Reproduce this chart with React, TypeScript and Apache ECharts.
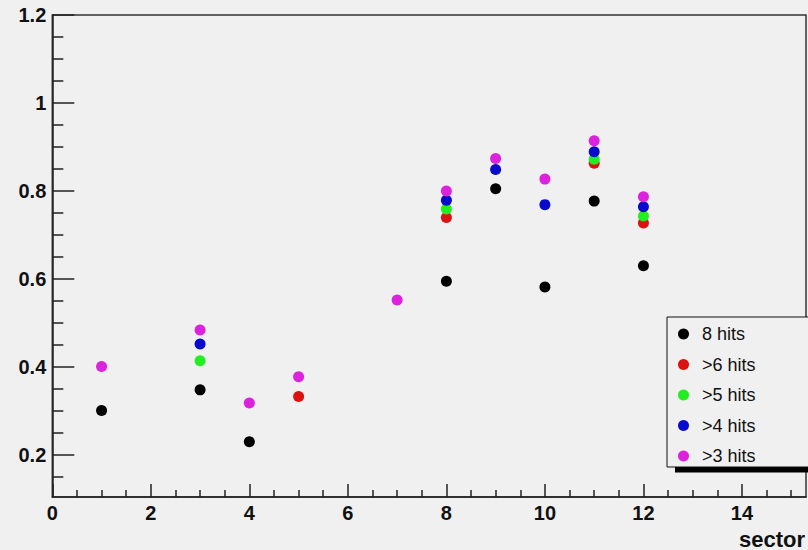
import React, { useEffect, useRef } from "react";
import * as echarts from "echarts";

// Sectors that have measurements
const sectors = [1, 3, 4, 5, 7, 8, 9, 10, 11, 12];
// Efficiency per sector (null where no separate marker is visible)
const hits8 = [0.301, 0.348, 0.23, null, null, 0.595, 0.805, 0.582, 0.777, 0.63];
const hitsGt6 = [null, null, null, 0.333, null, 0.74, null, null, 0.863, 0.727];
const hitsGt5 = [null, 0.414, null, null, null, 0.759, null, null, 0.872, 0.743];
const hitsGt4 = [null, 0.452, null, null, null, 0.779, 0.849, 0.769, 0.889, 0.764];
const hitsGt3 = [0.401, 0.484, 0.318, 0.378, 0.552, 0.8, 0.874, 0.827, 0.914, 0.787];

const seriesNames = ["8 hits", ">6 hits", ">5 hits", ">4 hits", ">3 hits"];
const seriesValues = [hits8, hitsGt6, hitsGt5, hitsGt4, hitsGt3];
const seriesColors = ["#000000", "#dc1212", "#22ee22", "#0a0acc", "#dd22dd"];

// Axis ticks
const xMajor = [0, 2, 4, 6, 8, 10, 12, 14];
const xMinor = [0.5, 1, 1.5, 2.5, 3, 3.5, 4.5, 5, 5.5, 6.5, 7, 7.5, 8.5, 9, 9.5, 10.5, 11, 11.5, 12.5, 13, 13.5, 14.5, 15];
const yMajor = [0.2, 0.4, 0.6, 0.8, 1, 1.2];
const yMinor = [0.15, 0.25, 0.3, 0.35, 0.45, 0.5, 0.55, 0.65, 0.7, 0.75, 0.85, 0.9, 0.95, 1.05, 1.1, 1.15];

const X_MIN = 0;
const X_MAX = 15.3;
const Y_MIN = 0.1045;
const Y_MAX = 1.2;

const FONT = "'Liberation Sans', Arial, Helvetica, sans-serif";

export default function App() {
  const ref = useRef<HTMLDivElement>(null);

  useEffect(() => {
    if (!ref.current) return;
    const chart = echarts.init(ref.current, undefined, { renderer: "svg" });
    const tickLine = { color: "#222", width: 1.5 };
    const labelStyle = {
      fontSize: 20,
      fontWeight: "bold" as const,
      fontFamily: FONT,
      color: "#111",
    };

    chart.setOption({
      animation: false,
      backgroundColor: "#f0f0f0",
      grid: {
        left: 52.3,
        right: 2,
        top: 15,
        bottom: 53,
        show: true,
        backgroundColor: "#f0f0f0",
        borderColor: "#333",
        borderWidth: 1.5,
      },
      xAxis: [
        {
          type: "value",
          min: X_MIN,
          max: X_MAX,
          position: "bottom",
          axisLine: { show: true, onZero: false, lineStyle: tickLine },
          axisTick: { show: true, inside: true, length: 13, customValues: xMajor, lineStyle: tickLine },
          axisLabel: { ...labelStyle, customValues: xMajor, margin: 6 },
          splitLine: { show: false },
        },
        {
          type: "value",
          min: X_MIN,
          max: X_MAX,
          position: "bottom",
          axisLine: { show: false },
          axisTick: { show: true, inside: true, length: 7, customValues: xMinor, lineStyle: tickLine },
          axisLabel: { show: false },
          splitLine: { show: false },
        },
      ],
      yAxis: [
        {
          type: "value",
          min: Y_MIN,
          max: Y_MAX,
          position: "left",
          axisLine: { show: true, onZero: false, lineStyle: tickLine },
          axisTick: { show: true, inside: true, length: 22, customValues: yMajor, lineStyle: tickLine },
          axisLabel: { ...labelStyle, customValues: yMajor, margin: 6 },
          splitLine: { show: false },
        },
        {
          type: "value",
          min: Y_MIN,
          max: Y_MAX,
          position: "left",
          offset: 0,
          axisLine: { show: false },
          axisTick: { show: true, inside: true, length: 11, customValues: yMinor, lineStyle: tickLine },
          axisLabel: { show: false },
          splitLine: { show: false },
        },
      ],
      legend: {
        show: true,
        orient: "vertical",
        left: 678,
        top: 325,
        padding: 0,
        itemGap: 12.5,
        itemWidth: 27,
        itemHeight: 11,
        icon: "circle",
        selectedMode: false,
        z: 6,
        itemStyle: { opacity: 1 },
        textStyle: { fontSize: 18, fontFamily: FONT, color: "#111", lineHeight: 16 },
        data: seriesNames,
      },
      graphic: [
        {
          type: "rect",
          z: 5,
          shape: { x: 675, y: 467, width: 140, height: 5.5 },
          style: { fill: "#000" },
        },
        {
          type: "rect",
          z: 5,
          shape: { x: 667, y: 317, width: 150, height: 150 },
          style: { fill: "#f0f0f0", stroke: "#111", lineWidth: 1 },
        },
        {
          type: "text",
          z: 5,
          style: {
            x: 805,
            y: 539,
            text: "sector",
            textAlign: "right",
            textVerticalAlign: "middle",
            fontSize: 22,
            fontWeight: "bold",
            fontFamily: FONT,
            fill: "#111",
          },
        },
      ],
      series: seriesNames.map((name, i) => ({
        name,
        type: "scatter",
        xAxisIndex: 0,
        yAxisIndex: 0,
        symbol: "circle",
        symbolSize: 11,
        itemStyle: { color: seriesColors[i], opacity: 1 },
        data: sectors
          .map((s, j) => [s, seriesValues[i][j]])
          .filter((p) => p[1] !== null),
      })),
    });

    return () => chart.dispose();
  }, []);

  return (
    <div
      ref={ref}
      style={{ position: "fixed", left: 0, top: 0, width: 808, height: 550 }}
    />
  );
}
